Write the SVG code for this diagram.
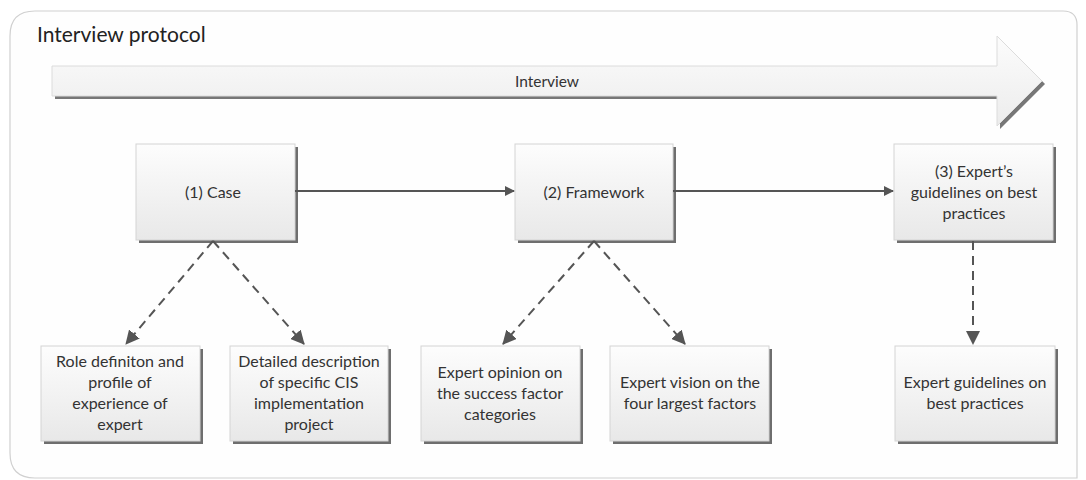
<svg xmlns="http://www.w3.org/2000/svg" width="1086" height="480" viewBox="0 0 1086 480">
<style>
.t{font-family:Lato,"Open Sans","Liberation Sans",sans-serif;font-size:16px;fill:#333;text-anchor:middle}
.box{fill:url(#g);stroke:#d4d4d4;stroke-width:1}
.sh{fill:#6e6e6e}
.solid{stroke:#555;stroke-width:2;fill:none}
.dash{stroke:#555;stroke-width:2;fill:none;stroke-dasharray:9,6}
</style>
<defs>
<linearGradient id="g" x1="0" y1="0" x2="0" y2="1"><stop offset="0" stop-color="#fdfdfd"/><stop offset="1" stop-color="#e8e8e8"/></linearGradient>
<linearGradient id="ga" x1="0" y1="0" x2="0" y2="1"><stop offset="0" stop-color="#fcfcfc"/><stop offset="1" stop-color="#ececec"/></linearGradient>
<marker id="ah" markerWidth="10" markerHeight="10" refX="9" refY="5" orient="auto" markerUnits="userSpaceOnUse" viewBox="0 0 10 10"><path d="M0,0 L10,5 L0,10 z" fill="#555"/></marker>
<marker id="ah2" markerWidth="14" markerHeight="14" refX="13" refY="7" orient="auto" markerUnits="userSpaceOnUse" viewBox="0 0 14 14"><path d="M0,0 L14,7 L0,14 z" fill="#555"/></marker>
</defs>
<rect x="0" y="0" width="1086" height="480" fill="#fff"/>
<g id="frame">
<path d="M35,11 H1063 Q1077,11 1077,25 V478 H35 Q10,478 10,453 V36 Q10,11 35,11 Z" fill="#fefefe" stroke="#d0d0d0" stroke-width="1.2"/>
<text x="37" y="42" style="font-family:Lato,'Open Sans','Liberation Sans',sans-serif;font-size:21px;fill:#222">Interview protocol</text>
</g>
<g id="interview">
<path d="M55,69 H1000 V39 L1045,84 L1000,129 V99 H55 Z" fill="#777"/>
<path d="M52,66 H997 V36 L1042,81 L997,126 V96 H52 Z" fill="url(#ga)" stroke="#dcdcdc" stroke-width="1"/>
<text class="t" x="547" y="87" style="font-size:15.5px">Interview</text>
</g>
<g id="case">
<rect class="sh" x="139" y="147" width="159" height="96"/>
<rect class="box" x="136" y="144" width="159" height="96"/>
<text class="t" x="213" y="198">(1) Case</text>
</g>
<g id="framework">
<rect class="sh" x="518" y="147" width="158" height="96"/>
<rect class="box" x="515" y="144" width="158" height="96"/>
<text class="t" x="594" y="198">(2) Framework</text>
</g>
<g id="guidelines">
<rect class="sh" x="897" y="147" width="159" height="96"/>
<rect class="box" x="894" y="144" width="159" height="96"/>
<text class="t" x="974" y="177">(3) Expert’s</text>
<text class="t" x="974" y="198">guidelines on best</text>
<text class="t" x="974" y="219">practices</text>
</g>
<g id="role">
<rect class="sh" x="44" y="349" width="159" height="95"/>
<rect class="box" x="41" y="346" width="159" height="95"/>
<text class="t" x="120" y="367">Role definiton and</text>
<text class="t" x="120" y="388">profile of</text>
<text class="t" x="120" y="409">experience of</text>
<text class="t" x="120" y="430">expert</text>
</g>
<g id="detailed">
<rect class="sh" x="233" y="349" width="158" height="95"/>
<rect class="box" x="230" y="346" width="158" height="95"/>
<text class="t" x="309" y="367">Detailed description</text>
<text class="t" x="309" y="388">of specific CIS</text>
<text class="t" x="309" y="409">implementation</text>
<text class="t" x="309" y="430">project</text>
</g>
<g id="opinion">
<rect class="sh" x="424" y="349" width="159" height="95"/>
<rect class="box" x="421" y="346" width="159" height="95"/>
<text class="t" x="500" y="378">Expert opinion on</text>
<text class="t" x="500" y="399">the success factor</text>
<text class="t" x="500" y="420">categories</text>
</g>
<g id="vision">
<rect class="sh" x="613" y="349" width="159" height="95"/>
<rect class="box" x="610" y="346" width="159" height="95"/>
<text class="t" x="690" y="388">Expert vision on the</text>
<text class="t" x="690" y="409">four largest factors</text>
</g>
<g id="best">
<rect class="sh" x="898" y="349" width="160" height="95"/>
<rect class="box" x="895" y="346" width="160" height="95"/>
<text class="t" x="975" y="388">Expert guidelines on</text>
<text class="t" x="975" y="409">best practices</text>
</g>
<g id="connectors">
<line class="solid" x1="295" y1="191" x2="514" y2="191" marker-end="url(#ah)"/>
<line class="solid" x1="673" y1="191" x2="893" y2="191" marker-end="url(#ah)"/>
<line class="dash" x1="213" y1="241" x2="126" y2="344" marker-end="url(#ah2)"/>
<line class="dash" x1="213" y1="241" x2="304" y2="344" marker-end="url(#ah2)"/>
<line class="dash" x1="594" y1="241" x2="503" y2="344" marker-end="url(#ah2)"/>
<line class="dash" x1="594" y1="241" x2="685" y2="344" marker-end="url(#ah2)"/>
<line class="dash" x1="973" y1="241" x2="973" y2="344" marker-end="url(#ah2)"/>
</g>
</svg>
